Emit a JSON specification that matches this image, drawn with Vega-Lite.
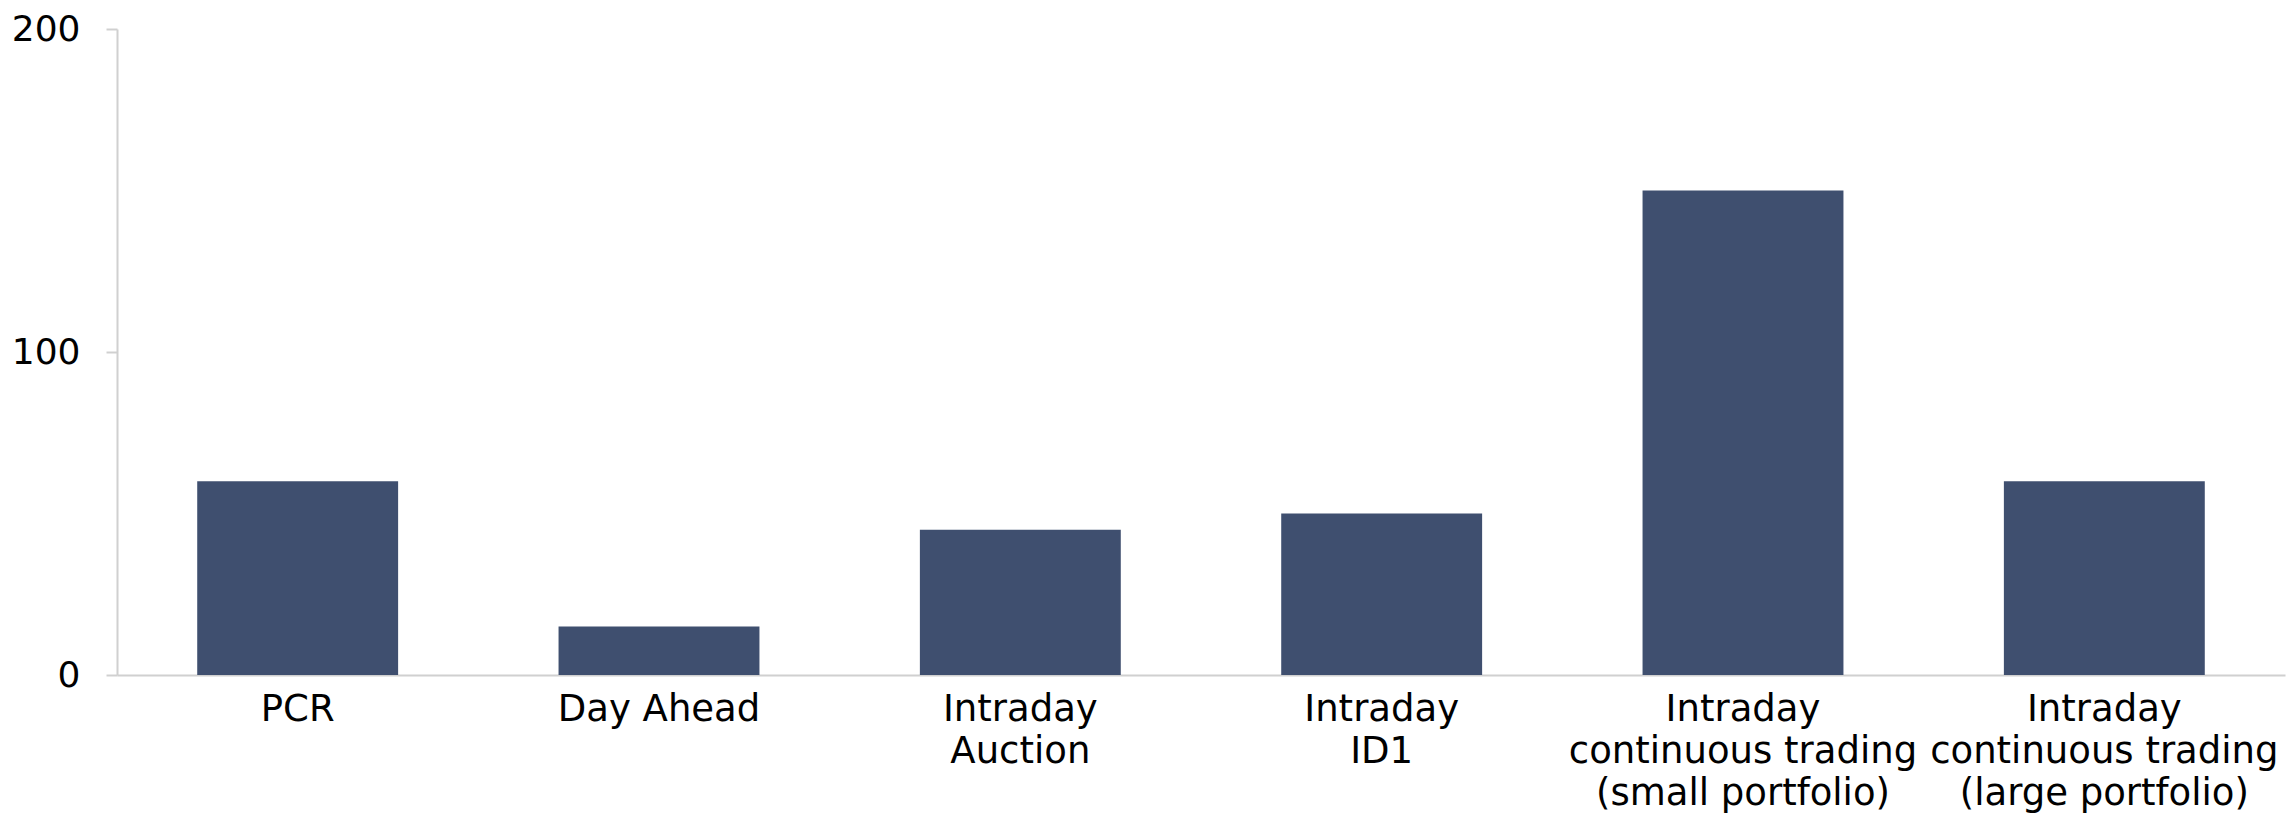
{
  "$schema": "https://vega.github.io/schema/vega-lite/v6.json",
  "autosize": "none",
  "width": 2168,
  "height": 646,
  "padding": {"left": 117, "top": 29, "right": 5, "bottom": 139},
  "background": "white",
  "config": {"view": {"stroke": null}, "font": "DejaVu Sans"},
  "data": {
    "values": [
      {"market": "PCR", "value": 60},
      {"market": "Day Ahead", "value": 15},
      {"market": "Intraday\nAuction", "value": 45},
      {"market": "Intraday\nID1", "value": 50},
      {"market": "Intraday\ncontinuous trading\n(small portfolio)", "value": 150},
      {"market": "Intraday\ncontinuous trading\n(large portfolio)", "value": 60}
    ]
  },
  "mark": {"type": "bar", "color": "#3F4F6F"},
  "encoding": {
    "x": {
      "field": "market",
      "type": "nominal",
      "sort": null,
      "title": null,
      "scale": {"paddingInner": 0.444, "paddingOuter": 0.222},
      "axis": {
        "labelAngle": 0,
        "labelExpr": "split(datum.value, '\\n')",
        "labelFont": "DejaVu Sans",
        "labelFontSize": 37,
        "labelColor": "#000000",
        "labelLineHeight": 42,
        "labelPadding": 16,
        "ticks": false,
        "tickSize": 0,
        "domainColor": "#D0D0D0",
        "domainWidth": 2,
        "labelLimit": 0
      }
    },
    "y": {
      "field": "value",
      "type": "quantitative",
      "title": null,
      "scale": {"domain": [0, 200], "nice": false},
      "axis": {
        "values": [0, 100, 200],
        "grid": false,
        "labelFont": "DejaVu Sans",
        "labelFontSize": 36,
        "labelColor": "#000000",
        "labelPadding": 26,
        "tickSize": 11,
        "tickColor": "#D0D0D0",
        "tickWidth": 2,
        "domainColor": "#D0D0D0",
        "domainWidth": 2
      }
    }
  }
}
